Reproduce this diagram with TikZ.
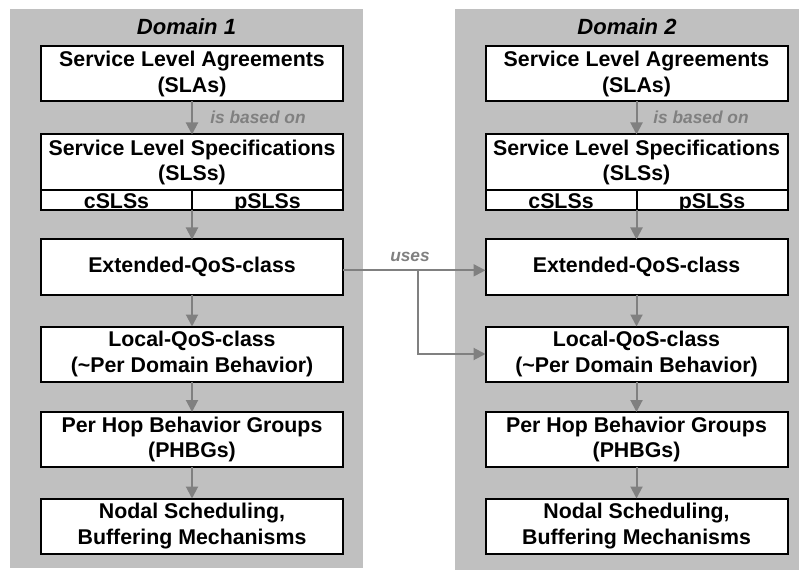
\documentclass[tikz,border=0pt]{standalone}
\usepackage{fontspec}
\setmainfont{Liberation Sans}
\usetikzlibrary{arrows.meta}
\definecolor{panel}{RGB}{192,192,192}
\definecolor{arr}{RGB}{128,128,128}
\begin{document}
\begin{tikzpicture}[x=0.75pt,y=-0.75pt,
 box/.style={draw=black, line width=1.5pt, fill=white, minimum width=226.5pt, minimum height=41.25pt, inner sep=0pt, outer sep=0pt, align=center, font=\fontsize{16}{19}\selectfont\bfseries},
 cell/.style={draw=black, line width=1.5pt, fill=white, minimum width=113.25pt, minimum height=15pt, inner sep=0pt, outer sep=0pt},
 celltext/.style={anchor=base, inner sep=0pt, font=\fontsize{16}{19}\selectfont\bfseries},
 flow/.style={draw=arr, line width=1.5pt, -{Triangle[length=9pt,width=9pt]}},
 lbl/.style={text=arr, inner sep=0pt, font=\fontsize{13}{15}\selectfont\bfseries\itshape},
 title/.style={inner sep=0pt, font=\fontsize{16.5}{19}\selectfont\bfseries\itshape}]
\useasboundingbox (0,0) rectangle (799,570);
\fill[panel] (10,9) rectangle (363,568);
\fill[panel] (455,9) rectangle (799,570);

\node[title] (t1) at (186.5,27) {Domain 1};
\node[title] (t2) at (627,27) {Domain 2};

% Domain 1
\node[box] (sla1) at (192,74) {Service Level Agreements\\(SLAs)};
\node[box, minimum height=42pt] (sls1) at (192,162.5) {Service Level Specifications\\(SLSs)};
\node[cell] (c1) at (116.5,200.5) {};
\node[cell] (p1) at (267.5,200.5) {};
\begin{scope}
\clip (c1.north west) rectangle (p1.south east);
\node[celltext] at ([yshift=1.8pt]c1.south) {cSLSs};
\node[celltext] at ([yshift=1.8pt]p1.south) {pSLSs};
\end{scope}
\draw[line width=1.5pt] (c1.north west) rectangle (p1.south east);
\draw[line width=1.5pt] (c1.north east) -- (c1.south east);
\node[box] (ext1) at (192,267) {Extended-QoS-class};
\node[box] (loc1) at (192,354) {Local-QoS-class\\(\textasciitilde Per Domain Behavior)};
\node[box] (phb1) at (192,439.5) {Per Hop Behavior Groups\\(PHBGs)};
\node[box] (nod1) at (192,526) {Nodal Scheduling,\\Buffering Mechanisms};

% Domain 2
\node[box] (sla2) at (636.5,74) {Service Level Agreements\\(SLAs)};
\node[box, minimum height=42pt] (sls2) at (636.5,162.5) {Service Level Specifications\\(SLSs)};
\node[cell] (c2) at (561,200.5) {};
\node[cell] (p2) at (712,200.5) {};
\begin{scope}
\clip (c2.north west) rectangle (p2.south east);
\node[celltext] at ([yshift=1.8pt]c2.south) {cSLSs};
\node[celltext] at ([yshift=1.8pt]p2.south) {pSLSs};
\end{scope}
\draw[line width=1.5pt] (c2.north west) rectangle (p2.south east);
\draw[line width=1.5pt] (c2.north east) -- (c2.south east);
\node[box] (ext2) at (636.5,267) {Extended-QoS-class};
\node[box] (loc2) at (636.5,354) {Local-QoS-class\\(\textasciitilde Per Domain Behavior)};
\node[box] (phb2) at (636.5,439.5) {Per Hop Behavior Groups\\(PHBGs)};
\node[box] (nod2) at (636.5,526) {Nodal Scheduling,\\Buffering Mechanisms};

% vertical flows
\foreach \d in {1,2} {
  \draw[flow] (sla\d.south) -- (sls\d.north);
  \draw[flow] (c\d.south east) -- (c\d.south east |- ext\d.north);
  \draw[flow] (ext\d.south) -- (loc\d.north);
  \draw[flow] (loc\d.south) -- (phb\d.north);
  \draw[flow] (phb\d.south) -- (nod\d.north);
}
\node[lbl, anchor=west] (b1) at (210,117) {is based on};
\node[lbl, anchor=west] (b2) at (653,117) {is based on};

% uses
\draw[flow] ([yshift=-2.5pt]ext1.east) -- ([yshift=-2.5pt]ext2.west);
\coordinate (br) at (418,270.3);
\draw[flow] (br) |- (loc2.west);
\node[lbl] (u) at (410,257) {uses};
\end{tikzpicture}
\end{document}
